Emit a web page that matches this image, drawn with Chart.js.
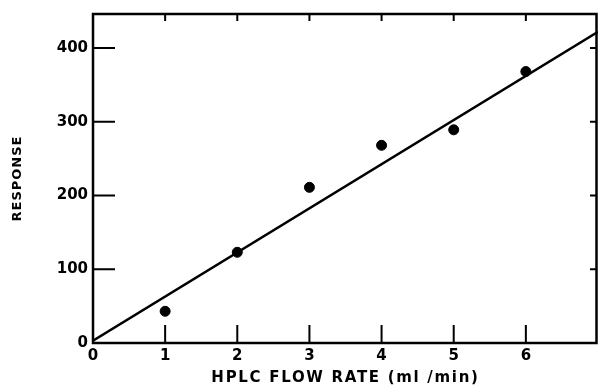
<!DOCTYPE html>
<html>
<head>
<meta charset="utf-8">
<script src="https://cdn.jsdelivr.net/npm/chart.js@4.4.1/dist/chart.umd.min.js"></script>
<style>
  html, body { margin: 0; padding: 0; background: #fff; overflow: hidden; }
  canvas { display: block; }
</style>
</head>
<body>
<canvas id="flowChart" width="598" height="391"></canvas>
<script>
// measured points (flow rate ml/min vs response)
var flowRates = [1, 2, 3, 4, 5, 6];
var responses = [43, 123, 211, 268, 289, 368];
// fitted line end points
var fitX = [0, 7];
var fitY = [3, 422];
var xTicks = [0, 1, 2, 3, 4, 5, 6];
var yTicks = [0, 100, 200, 300, 400];

var pts = flowRates.map(function (v, i) { return { x: v, y: responses[i] }; });
var fit = fitX.map(function (v, i) { return { x: v, y: fitY[i] }; });

// frame + inward ticks on all four sides
var frameTicks = {
  id: 'frameTicks',
  afterDatasetsDraw: function (chart) {
    var c = chart.ctx, a = chart.chartArea, xs = chart.scales.x, ys = chart.scales.y;
    c.save();
    c.strokeStyle = '#000';
    c.lineWidth = 2.5;
    c.strokeRect(a.left, a.top, a.right - a.left - 1.5, a.bottom - a.top);
    c.lineWidth = 2;
    c.beginPath();
    xTicks.forEach(function (t) {
      if (t === 0) return;
      var px = xs.getPixelForValue(t);
      c.moveTo(px, a.bottom); c.lineTo(px, a.bottom - 18);
      c.moveTo(px, a.top); c.lineTo(px, a.top + 7);
    });
    yTicks.forEach(function (t) {
      if (t === 0) return;
      var py = ys.getPixelForValue(t);
      c.moveTo(a.left, py); c.lineTo(a.left + 22, py);
      c.moveTo(a.right - 1, py); c.lineTo(a.right - 8, py);
    });
    c.stroke();
    c.restore();
  }
};

// wider letter spacing for the axis titles
function spacedTitle(s, gap) {
  if (s._spaced) return;
  var orig = s.drawTitle;
  s.drawTitle = function () {
    this.ctx.save();
    this.ctx.letterSpacing = gap;
    orig.apply(this, arguments);
    this.ctx.restore();
  };
  s._spaced = true;
}

var ctx = document.getElementById('flowChart').getContext('2d');
var chart = new Chart(ctx, {
  type: 'scatter',
  data: {
    datasets: [{
      label: 'measured',
      data: pts,
      backgroundColor: '#000',
      borderColor: '#000',
      pointRadius: 5,
      pointHoverRadius: 5
    }, {
      type: 'line',
      label: 'fit',
      data: fit,
      borderColor: '#000',
      borderWidth: 2.5,
      pointRadius: 0,
      fill: false
    }]
  },
  options: {
    responsive: false,
    animation: false,
    layout: { autoPadding: false, padding: { top: 13, right: 0, left: 0, bottom: 0 } },
    plugins: { legend: { display: false }, tooltip: { enabled: false } },
    scales: {
      x: {
        type: 'linear',
        min: 0, max: 7,
        afterBuildTicks: function (s) { s.ticks = xTicks.map(function (v) { return { value: v }; }); },
        afterFit: function (s) { s.height = 48; s.paddingRight = 0; s.paddingLeft = 0; },
        afterUpdate: function (s) { spacedTitle(s, '1.7px'); },
        grid: { display: false, drawTicks: false },
        border: { display: false },
        ticks: { color: '#000', padding: 4, font: { family: 'DejaVu Sans', size: 15, weight: 'bold' } },
        title: {
          display: true,
          text: 'HPLC FLOW RATE (ml /min)',
          color: '#000',
          padding: { top: 7 },
          font: { family: 'DejaVu Sans', size: 15, weight: 'bold' }
        }
      },
      y: {
        min: 0, max: 446,
        afterBuildTicks: function (s) { s.ticks = yTicks.map(function (v) { return { value: v }; }); },
        afterFit: function (s) { s.width = 93; },
        afterUpdate: function (s) { spacedTitle(s, '1px'); },
        grid: { display: false, drawTicks: false },
        border: { display: false },
        ticks: { color: '#000', padding: 5, font: { family: 'DejaVu Sans', size: 15, weight: 'bold' } },
        title: {
          display: true,
          text: 'RESPONSE',
          color: '#000',
          padding: { top: 10, bottom: 0 },
          font: { family: 'DejaVu Sans', size: 13, weight: 'bold' }
        }
      }
    }
  },
  plugins: [frameTicks]
});
</script>
</body>
</html>
